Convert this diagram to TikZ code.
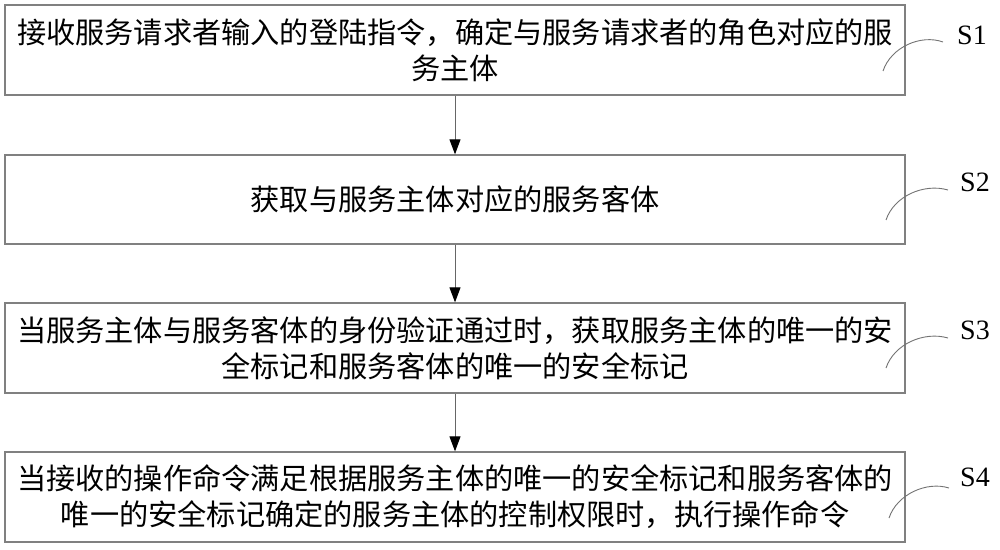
\documentclass[tikz,border=0pt]{standalone}
\usepackage{fontspec}
\setmainfont{Liberation Serif}
\newfontfamily\cjk{Noto Sans CJK SC}
\usetikzlibrary{arrows.meta,calc}
\begin{document}
\begin{tikzpicture}[x=1pt,y=-1pt,
  box/.style={draw=black!50, line width=1.3pt, minimum width=900pt, inner sep=0pt,
    align=center, font=\cjk\fontsize{29.2}{36}\selectfont},
  steplabel/.style={inner sep=0pt, font=\fontsize{28}{28}\selectfont},
  flow/.style={draw=black!60, line width=1pt, -{Triangle[length=15pt,width=11pt,color=black]}},
  hook/.style={draw=black!55, line width=0.9pt}]
\useasboundingbox (0,0) rectangle (1000,549);
\node[box, minimum height=90pt] (b1) at (455,50) {接收服务请求者输入的登陆指令，确定与服务请求者的角色对应的服\\务主体};
\node[box, minimum height=89pt] (b2) at (455,199.5) {获取与服务主体对应的服务客体};
\node[box, minimum height=90pt] (b3) at (455,348) {当服务主体与服务客体的身份验证通过时，获取服务主体的唯一的安\\全标记和服务客体的唯一的安全标记};
\node[box, minimum height=90pt] (b4) at (455,497) {当接收的操作命令满足根据服务主体的唯一的安全标记和服务客体的\\唯一的安全标记确定的服务主体的控制权限时，执行操作命令};
\draw[flow] (b1) -- (b2);
\draw[flow] (b2) -- (b3);
\draw[flow] (b3) -- (b4);
\node[steplabel, anchor=west] (s1) at (957,35) {S1};
\node[steplabel, anchor=west] (s2) at (960,182) {S2};
\node[steplabel, anchor=west] (s3) at (960,330) {S3};
\node[steplabel, anchor=west] (s4) at (960,477) {S4};
\coordinate (h1) at (883,71);  \coordinate (e1) at (943,42);
\coordinate (h2) at (886,220); \coordinate (e2) at (948,190);
\coordinate (h3) at (886,368); \coordinate (e3) at (948,338);
\coordinate (h4) at (889,518); \coordinate (e4) at (949,488);
\foreach \i in {1,2,3,4}{
  \draw[hook] (h\i) .. controls ($(h\i)+(8,-24)$) and ($(h\i)+(38,-37)$) .. (e\i);
}
\end{tikzpicture}
\end{document}
